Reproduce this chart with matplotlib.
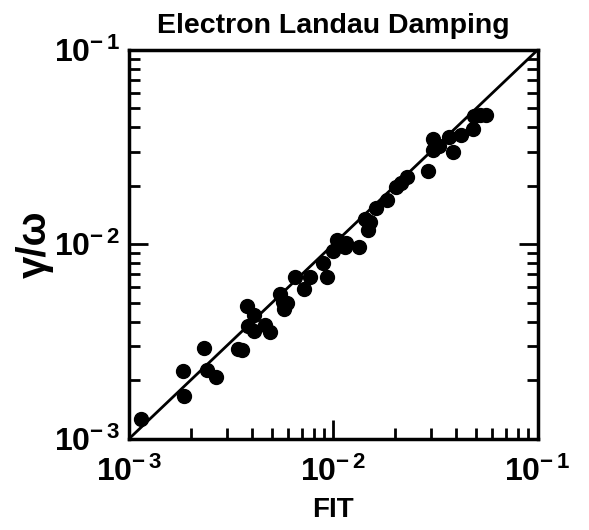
import matplotlib
matplotlib.use("Agg")
import matplotlib.pyplot as plt
import numpy as np

plt.rcParams['font.family'] = ['Liberation Sans', 'DejaVu Sans']
plt.rcParams['font.weight'] = 'bold'
plt.rcParams['mathtext.fontset'] = 'custom'
plt.rcParams['mathtext.rm'] = 'Liberation Sans:bold'

# data
fit = [1.14e-3, 1.83e-3, 1.86e-3, 2.34e-3, 2.40e-3, 2.68e-3, 3.40e-3, 3.59e-3,
       3.76e-3, 4.09e-3, 3.83e-3, 4.09e-3, 4.62e-3, 4.89e-3, 5.47e-3, 5.64e-3,
       5.73e-3, 5.94e-3, 6.48e-3, 7.17e-3, 7.67e-3, 8.91e-3, 9.26e-3, 9.98e-3,
       1.04e-2, 1.15e-2, 1.14e-2, 1.34e-2, 1.43e-2, 1.51e-2, 1.48e-2, 1.61e-2,
       1.82e-2, 2.03e-2, 2.14e-2, 2.28e-2, 2.91e-2, 3.08e-2, 3.08e-2, 3.29e-2,
       3.68e-2, 3.86e-2, 4.19e-2, 4.80e-2, 4.87e-2, 5.20e-2, 5.58e-2]
gamma = [1.27e-3, 2.24e-3, 1.67e-3, 2.92e-3, 2.25e-3, 2.08e-3, 2.88e-3, 2.86e-3,
         4.82e-3, 4.33e-3, 3.80e-3, 3.59e-3, 3.85e-3, 3.55e-3, 5.56e-3, 5.07e-3,
         4.63e-3, 4.98e-3, 6.78e-3, 5.88e-3, 6.78e-3, 8.03e-3, 6.83e-3, 9.19e-3,
         1.05e-2, 1.01e-2, 9.71e-3, 9.67e-3, 1.35e-2, 1.30e-2, 1.18e-2, 1.54e-2,
         1.69e-2, 1.98e-2, 2.07e-2, 2.23e-2, 2.37e-2, 3.46e-2, 3.07e-2, 3.22e-2,
         3.57e-2, 2.97e-2, 3.66e-2, 3.93e-2, 4.59e-2, 4.65e-2, 4.65e-2]
line_x = [1e-3, 1e-1]
decades = [1e-3, 1e-2, 1e-1]
decade_labels = [r'$\mathregular{10^{-\,3}}$', r'$\mathregular{10^{-\,2}}$', r'$\mathregular{10^{-\,1}}$']

fig = plt.figure(figsize=(5.89, 5.30), dpi=100)
ax = fig.add_axes([0.219, 0.172, 0.694, 0.734])

ax.plot(line_x, line_x, color='black', lw=2)
ax.plot(fit, gamma, 'o', color='black', markersize=10)

ax.set_xscale('log')
ax.set_yscale('log')
ax.set_xlim(1e-3, 1e-1)
ax.set_ylim(1e-3, 1e-1)
ax.set_xticks(decades)
ax.set_xticklabels(decade_labels)
ax.set_yticks(decades)
ax.set_yticklabels(decade_labels)

ax.tick_params(which='both', direction='in', top=False, right=True, width=2)
ax.tick_params(which='major', length=14, labelsize=23)
ax.tick_params(axis='x', which='major', pad=13)
ax.tick_params(axis='y', which='major', pad=6)
ax.tick_params(which='minor', length=8)
for s in ax.spines.values():
    s.set_linewidth(2.5)

ax.set_title("Electron Landau Damping", fontsize=20.5, fontweight='bold', pad=12)
ax.set_xlabel("FIT", fontsize=20, fontweight='bold', labelpad=6)
ax.set_ylabel("γ/ω", fontsize=29, fontweight='bold', labelpad=0)

fig.savefig("out.png", dpi=100)
